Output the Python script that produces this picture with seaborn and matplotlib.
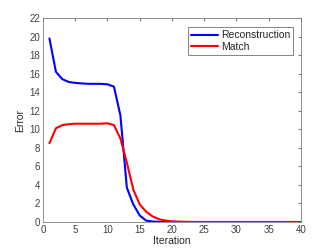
import numpy as np
import pandas as pd
import seaborn as sns
import matplotlib
matplotlib.use("Agg")
import matplotlib.pyplot as plt

iterations = list(range(1, 41))
reconstruction = [19.8, 16.2, 15.4, 15.1, 15.0, 14.95, 14.9, 14.9, 14.9, 14.85,
                  14.6, 11.5, 3.7, 1.9, 0.7, 0.15, 0.05, 0.02, 0.01, 0.0,
                  0, 0, 0, 0, 0, 0, 0, 0, 0, 0,
                  0, 0, 0, 0, 0, 0, 0, 0, 0, 0]
match = [8.5, 10.1, 10.45, 10.55, 10.6, 10.6, 10.6, 10.6, 10.6, 10.65,
         10.45, 9.0, 6.4, 3.5, 1.9, 1.1, 0.6, 0.3, 0.15, 0.07,
         0.04, 0.02, 0.01, 0, 0, 0, 0, 0, 0, 0,
         0, 0, 0, 0, 0, 0, 0, 0, 0, 0]
series_names = ["Reconstruction", "Match"]
colors = ["#0000ff", "#ff0000"]

df = pd.DataFrame({
    "Iteration": iterations * 2,
    "Error": reconstruction + match,
    "Series": [series_names[0]] * len(iterations) + [series_names[1]] * len(iterations),
})

sns.set_style("white")
plt.rcParams["font.family"] = ["Liberation Sans", "DejaVu Sans"]

fig = plt.figure(figsize=(3.32, 2.49), dpi=100)
ax = fig.add_axes([0.1295, 0.1084, 0.7771, 0.8193])
sns.lineplot(data=df, x="Iteration", y="Error", hue="Series",
             palette=dict(zip(series_names, colors)), linewidth=1.5, ax=ax)

ax.set_xlim(0, 40)
ax.set_ylim(0, 22)
ax.set_xticks(np.arange(0, 41, 5))
ax.set_yticks(np.arange(0, 23, 2))
ax.tick_params(direction="in", length=2.5, width=0.5, labelsize=7,
               colors="#404040", top=True, right=True, pad=2)
for s in ax.spines.values():
    s.set_color("#808080")
    s.set_linewidth(0.6)
ax.set_xlabel("Iteration", fontsize=7.5, color="#262626", labelpad=1)
ax.set_ylabel("Error", fontsize=7.5, color="#262626", labelpad=3)

leg = ax.legend(loc="upper right", bbox_to_anchor=(0.97, 0.955), fontsize=7.5,
                frameon=True, fancybox=False, handlelength=2.6,
                borderpad=0.3, labelspacing=0.15, handletextpad=0.3,
                borderaxespad=0)
leg.get_frame().set_edgecolor("#262626")
leg.get_frame().set_linewidth(0.5)
leg.set_title(None)

fig.savefig("out.png", dpi=100)
